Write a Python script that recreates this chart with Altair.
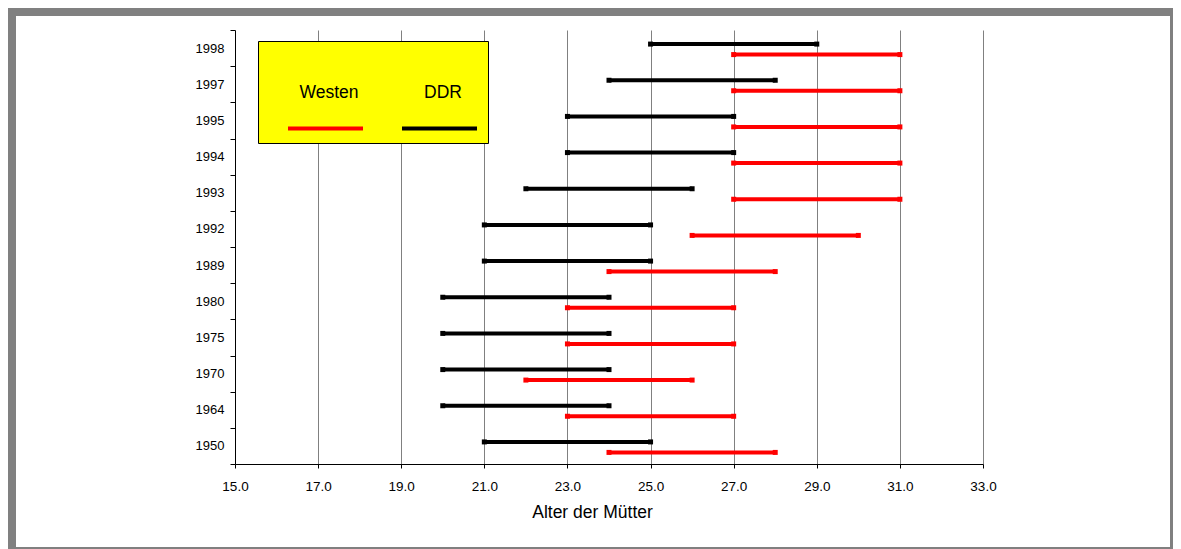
import altair as alt
import pandas as pd

# ---- data ----
years = ["1998", "1997", "1995", "1994", "1993", "1992",
         "1989", "1980", "1975", "1970", "1964", "1950"]
ddr_start = [25, 24, 23, 23, 22, 21, 21, 20, 20, 20, 20, 21]
ddr_end = [29, 28, 27, 27, 26, 25, 25, 24, 24, 24, 24, 25]
west_start = [27, 27, 27, 27, 27, 26, 24, 23, 23, 22, 23, 24]
west_end = [31, 31, 31, 31, 31, 30, 28, 27, 27, 26, 27, 28]
x_ticks = [15, 17, 19, 21, 23, 25, 27, 29, 31, 33]
series = ["Westen", "DDR"]
series_colors = ["#FF0000", "#000000"]

rows = []
for i, y in enumerate(years):
    rows.append({"Jahr": y, "Gebiet": "DDR", "von": ddr_start[i], "bis": ddr_end[i]})
    rows.append({"Jahr": y, "Gebiet": "Westen", "von": west_start[i], "bis": west_end[i]})
df = pd.DataFrame(rows)

FONT = "Liberation Sans, Arial, sans-serif"
W, H = 1154, 531
XR = [219, 967]
YR = [14, 448]

xscale = alt.Scale(domain=[15, 33], range=XR, nice=False, zero=False)
yscale = alt.Scale(domain=years, range=YR, paddingInner=0, paddingOuter=0)

yaxis = alt.Axis(orient="left", offset=-XR[0], title=None, tickBand="extent",
                 tickSize=5, tickColor="black", domainColor="black", domainWidth=1,
                 labelFontSize=13, labelPadding=6, labelColor="black", labelFont=FONT,
                 grid=False)
grid_axis = alt.Axis(orient="top", grid=True, gridColor="#808080", gridWidth=1,
                     domain=False, ticks=False, labels=False, title=None,
                     values=x_ticks[1:])
bottom_axis = alt.Axis(orient="bottom", offset=YR[1] - H, values=x_ticks, format=".1f",
                       grid=False, domainColor="black", domainWidth=1,
                       tickColor="black", tickSize=4, labelFontSize=13.5,
                       labelColor="black", labelPadding=11, labelFont=FONT,
                       labelFlush=False,
                       title="Alter der Mütter", titleFont=FONT, titleFontSize=17.5,
                       titleFontWeight="normal", titleColor="black",
                       titleX=576, titleY=53, titleBaseline="alphabetic",
                       titleAlign="center")

# legend key: label on top, a horizontal stroke below it (custom unit path)
legend = alt.Legend(orient="none", legendX=242, legendY=25, direction="horizontal",
                    title=" ", titleOrient="left", titleFont=FONT, titleFontSize=50,
                    titlePadding=25, titleBaseline="top",
                    symbolType="M-1,1.187H1", symbolSize=5625,
                    symbolStrokeWidth=4,
                    symbolOpacity=1, fillColor="#FFFF00", strokeColor="black",
                    padding=3, columnPadding=23,
                    labelBaseline="top", labelAlign="center",
                    labelOffset={"expr": "-36"},
                    labelFontSize=17.5, labelFont=FONT, labelColor="black",
                    labelLimit=0)

color_enc = alt.Color("Gebiet:N", scale=alt.Scale(domain=series, range=series_colors),
                      legend=legend)

base = alt.Chart(df)
y_enc = alt.Y("Jahr:N", scale=yscale, sort=years, axis=yaxis)

ddr_rule = base.transform_filter(alt.datum.Gebiet == "DDR").mark_rule(
    strokeWidth=4, yOffset=-4).encode(
    x=alt.X("von:Q", scale=xscale, axis=grid_axis), x2="bis:Q", y=y_enc, color=color_enc)

west_rule = base.transform_filter(alt.datum.Gebiet == "Westen").mark_rule(
    strokeWidth=4, yOffset=6.5).encode(
    x=alt.X("von:Q", scale=xscale, axis=bottom_axis), x2="bis:Q", y=y_enc, color=color_enc)

ddr_sq = base.transform_filter(alt.datum.Gebiet == "DDR").transform_fold(
    ["von", "bis"], as_=["Ende", "Wert"]).mark_square(
    size=25, opacity=1, yOffset=-4).encode(
    x=alt.X("Wert:Q", scale=xscale, axis=None), y=y_enc, color=color_enc)

west_sq = base.transform_filter(alt.datum.Gebiet == "Westen").transform_fold(
    ["von", "bis"], as_=["Ende", "Wert"]).mark_square(
    size=25, opacity=1, yOffset=6.5).encode(
    x=alt.X("Wert:Q", scale=xscale, axis=None), y=y_enc, color=color_enc)

chart = alt.layer(ddr_rule, west_rule, ddr_sq, west_sq).resolve_axis(
    x="independent"
).properties(
    width=W, height=H,
    background="#808080",
    padding={"left": 8, "top": 8, "right": 3, "bottom": 2},
    autosize=alt.AutoSizeParams(type="none"),
).configure(
    view=alt.ViewConfig(fill="white", stroke=None)
)

chart.save("out.html", embed_options={"renderer": "svg", "actions": False})
